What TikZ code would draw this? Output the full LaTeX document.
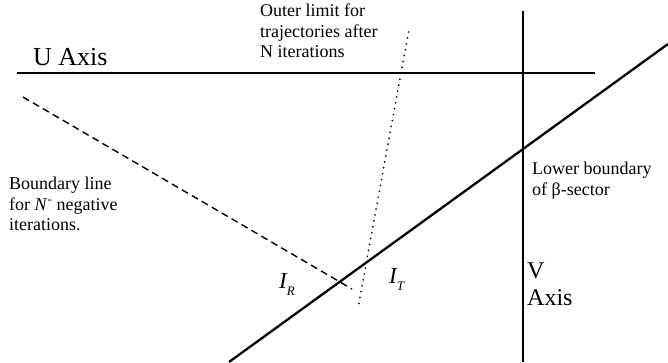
\documentclass[tikz,border=0pt]{standalone}
\usepackage{fontspec}
\setmainfont{Liberation Serif}
\usetikzlibrary{positioning,calc}
\tikzset{
  axisline/.style={line width=2.3pt},
  bdryline/.style={line width=1.4pt, dash pattern=on 7pt off 4.5pt},
  limitline/.style={line width=1.9pt, line cap=round, dash pattern=on 0pt off 6pt},
  note/.style={inner sep=0pt, align=left, anchor=north west, font=\fontsize{18}{20.5}\selectfont},
  biglabel/.style={inner sep=0pt, anchor=base west, font=\fontsize{26}{28}\selectfont},
  ptlabel/.style={inner sep=0pt, anchor=base west, font=\fontsize{23}{24}\selectfont\itshape},
}
\newcommand{\lowsub}[1]{\raisebox{-7pt}{\fontsize{13}{13}\selectfont #1}}

\begin{document}
\begin{tikzpicture}[x=1pt,y=-1pt]
  \useasboundingbox (0,0) rectangle (668,362);
  % axes
  \coordinate (uL) at (17,73);
  \coordinate (uR) at (595,73);
  \coordinate (vT) at (523,11);
  \coordinate (vB) at (523,362);
  \draw[axisline] (uL) -- (uR);
  \draw[axisline] (vT) -- (vB);
  % lower boundary of the beta-sector
  \coordinate (sB) at (229,362);
  \coordinate (sT) at (668,44);
  \draw[axisline] (sB) -- (sT);
  % boundary for negative iterations
  \coordinate (dA) at (23,97);
  \coordinate (dB) at (352,289);
  \draw[bdryline] (dA) -- (dB);
  % outer limit after N iterations
  \coordinate (tA) at (408.5,32);
  \coordinate (tB) at (358,308);
  \draw[limitline] (tA) -- (tB);
  % labels
  \node[biglabel] (uaxis) at (33,65) {U Axis};
  \node[biglabel, anchor=north west, align=left, font=\fontsize{24}{27}\selectfont] (vaxis) at (527,263) {V\\Axis};
  \node[note] (outer) at (260,4) {Outer limit for\\trajectories after\\N iterations};
  \node[note] (bdry) at (9,177) {Boundary line\\for \textit{N}\textsuperscript{-} negative\\iterations.};
  \node[note] (lower) at (532,162) {Lower boundary\\of β-sector};
  \node[ptlabel] (ir) at (279,288) {I\lowsub{R}};
  \node[ptlabel] (it) at (389,283) {I\lowsub{T}};
\end{tikzpicture}
\end{document}
